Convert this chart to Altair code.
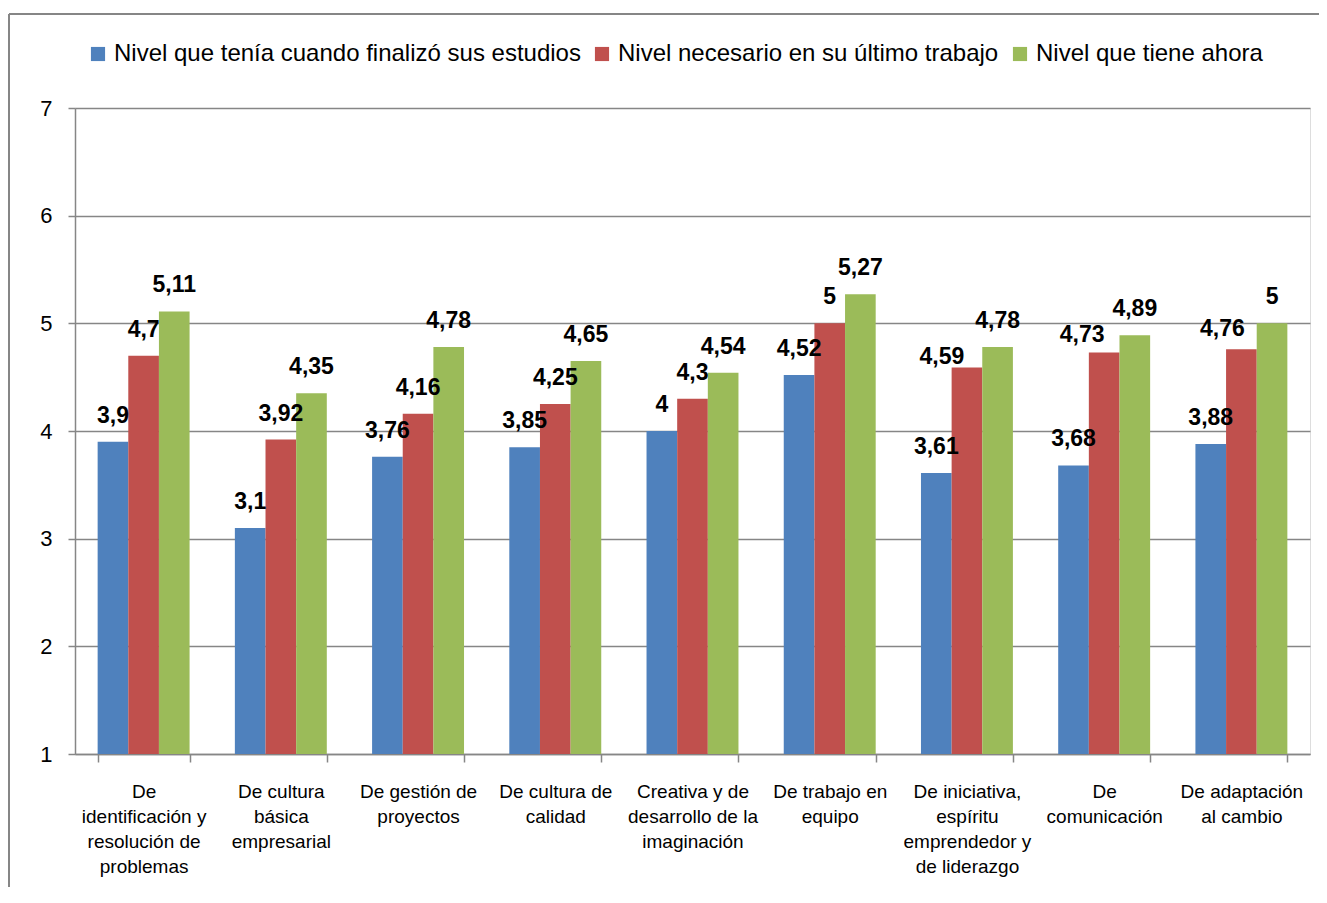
import altair as alt
import pandas as pd

categories = [
    "De\nidentificación y\nresolución de\nproblemas",
    "De cultura\nbásica\nempresarial",
    "De gestión de\nproyectos",
    "De cultura de\ncalidad",
    "Creativa y de\ndesarrollo de la\nimaginación",
    "De trabajo en\nequipo",
    "De iniciativa,\nespíritu\nemprendedor y\nde liderazgo",
    "De\ncomunicación",
    "De adaptación\nal cambio",
]
series = [
    "Nivel que tenía cuando finalizó sus estudios",
    "Nivel necesario en su último trabajo",
    "Nivel que tiene ahora",
]
nivel_finalizo = [3.9, 3.1, 3.76, 3.85, 4, 4.52, 3.61, 3.68, 3.88]
nivel_necesario = [4.7, 3.92, 4.16, 4.25, 4.3, 5, 4.59, 4.73, 4.76]
nivel_ahora = [5.11, 4.35, 4.78, 4.65, 4.54, 5.27, 4.78, 4.89, 5]
colors = ["#4F81BD", "#C0504D", "#9BBB59"]
y_ticks = [1, 2, 3, 4, 5, 6, 7]

rows = []
for s, vals in zip(series, [nivel_finalizo, nivel_necesario, nivel_ahora]):
    for c, v in zip(categories, vals):
        rows.append({"cat": c, "serie": s, "valor": v,
                     "etiqueta": f"{v:g}".replace(".", ",")})
df = pd.DataFrame(rows)

FONT = "Liberation Sans"
GRAY = "#868686"

x_enc = alt.X("cat:N", sort=categories, title=None,
              scale=alt.Scale(paddingInner=0.33, paddingOuter=0.165),
              axis=alt.Axis(labelAngle=0, tickBand="extent", tickSize=8,
                            tickColor=GRAY, domainColor=GRAY, domainWidth=1.5,
                            tickWidth=1.5,
                            labelFontSize=19, labelLineHeight=25, labelPadding=20,
                            labelLimit=300, labelColor="#000000", labelFont=FONT,
                            labelExpr="split(datum.label, '\\n')"))
xoff = alt.XOffset("serie:N", sort=series,
                   scale=alt.Scale(paddingInner=0, paddingOuter=0))
y_scale = alt.Scale(domain=[1, 7], zero=False, nice=False)

bars = alt.Chart(df).mark_bar().encode(
    x=x_enc,
    xOffset=xoff,
    y=alt.Y("valor:Q", scale=y_scale, title=None,
            axis=alt.Axis(values=y_ticks, format="d", grid=True, gridColor=GRAY,
                          gridWidth=1.5, domainColor=GRAY, domainWidth=1.5,
                          tickColor=GRAY, tickWidth=1.5, tickSize=7, labelFontSize=22,
                          labelPadding=16, labelColor="#000000", labelFont=FONT)),
    y2=alt.datum(1),
    color=alt.Color("serie:N", sort=series,
                    scale=alt.Scale(domain=series, range=colors),
                    legend=alt.Legend(title=None, orient="none", legendX=11,
                                      legendY=-66, direction="horizontal",
                                      symbolType="square", symbolSize=200,
                                      symbolStrokeWidth=0, labelFontSize=24,
                                      labelFont=FONT, labelLimit=0,
                                      columnPadding=9, labelOffset=4,
                                      padding=0)),
)

# labels moved aside in the reference (category index, series index, dx, dy)
moved = [(6, 1, -25, -3), (7, 1, -22, -10), (8, 1, -19, -13)]
moved_keys = [(categories[c], series[s]) for c, s, _, _ in moved]


def is_moved(row):
    return (row["cat"], row["serie"]) in moved_keys


df_normal = df[~df.apply(is_moved, axis=1)]


def label_layer(data, dx=0, dy=-19):
    return alt.Chart(data).mark_text(
        font=FONT, fontSize=23, fontWeight="bold", baseline="alphabetic",
        align="center", dx=dx, dy=dy, color="#000000"
    ).encode(
        x=alt.X("cat:N", sort=categories),
        xOffset=xoff,
        y=alt.Y("valor:Q", scale=y_scale),
        text="etiqueta:N",
    )


layers = [bars, label_layer(df_normal)]
for c, s, dx, dy in moved:
    sub = df[(df["cat"] == categories[c]) & (df["serie"] == series[s])]
    layers.append(label_layer(sub, dx, dy))

border_data = alt.Data(values=[{"k": 1}])
top_line = alt.Chart(border_data).mark_rule(color=GRAY, strokeWidth=2).encode(
    x=alt.value(-66), x2=alt.value(1244), y=alt.value(-94))
left_line = alt.Chart(border_data).mark_rule(color=GRAY, strokeWidth=2).encode(
    x=alt.value(-66), y=alt.value(-94), y2=alt.value(779))
layers += [top_line, left_line]

chart = alt.layer(*layers).properties(
    width=1235, height=646,
    padding={"left": 67, "top": 100, "right": 9, "bottom": 141},
    autosize=alt.AutoSizeParams(type="none"),
).configure_view(stroke=None).configure(font=FONT)

chart.save("out.html", embed_options={"renderer": "svg", "actions": False})
